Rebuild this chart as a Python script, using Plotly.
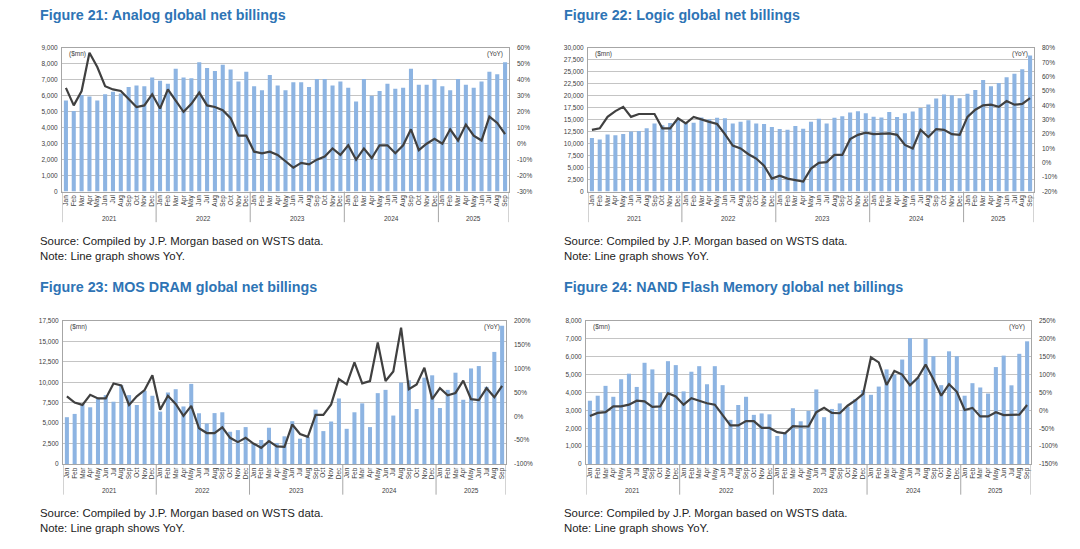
import plotly.graph_objects as go

W, H = 1080, 549

months = ["Jan", "Feb", "Mar", "Apr", "May", "Jun", "Jul", "Aug", "Sep", "Oct", "Nov", "Dec"]
month_labels = months * 4 + months[:9]
years = ["2021", "2022", "2023", "2024", "2025"]

# ---- Figure 21: Analog ($mn) and YoY (%) ----
analog_bill = [5700, 5050, 6050, 5950, 5700, 6100, 6250, 6150, 6550, 6650, 6600, 7150,
               6950, 6750, 7700, 7150, 7100, 8100, 7750, 7550, 7950, 7650, 6900, 7500,
               6600, 6350, 7300, 6650, 6350, 6850, 6850, 6550, 7050, 7050, 6650, 6900,
               6500, 5650, 7050, 6000, 6300, 6750, 6450, 6500, 7700, 6700, 6700, 7050,
               6600, 6350, 7050, 6700, 6500, 6900, 7500, 7350, 8100]
analog_yoy = [35, 24, 33, 57, 48, 36, 34, 33, 28, 23, 24, 31,
              22, 34, 27, 20, 25, 32, 24, 23, 21, 16, 5, 5,
              -5, -6, -5, -7, -11, -15, -12, -13, -10, -8, -3, -7,
              -1, -10, -3, -9, -1, -1, -6, -1, 9, -4, 0, 3,
              0, 9, 2, 12, 5, 2, 17, 13, 6]

# ---- Figure 22: Logic ----
logic_bill = [11200, 10850, 11900, 11750, 12000, 12550, 12650, 13250, 14200, 13870, 14300, 15100,
              14400, 14400, 15450, 15100, 15400, 15300, 14200, 14600, 14900, 14200, 14100, 13500,
              13050, 12900, 13700, 13100, 14600, 15200, 14200, 15400, 15750, 16500, 16750, 16350,
              15650, 15450, 16600, 15600, 16350, 16700, 17450, 18200, 19450, 20250, 20100, 19500,
              20450, 21200, 23300, 22000, 22650, 23900, 24600, 25550, 28400]
logic_yoy = [23, 24, 32, 36, 39, 32, 34, 34, 34, 24, 24, 31,
             27.5, 32, 30, 28.5, 27, 20, 12, 10, 6, 3, -2, -11,
             -9, -11, -12, -13, -4, 0, 0.5, 5.5, 5.5, 16.5, 19.5, 21,
             20, 20, 20.5, 19.5, 12.5, 10, 23, 18, 23.5, 23, 20, 19.5,
             32, 37, 40, 40.5, 39, 43, 40.5, 41, 45]

# ---- Figure 23: MOS DRAM ----
dram_bill = [5730, 6130, 7340, 6940, 8020, 8430, 7620, 9640, 8430, 7220, 8950, 8350,
             6410, 8750, 9150, 7040, 9800, 6210, 4960, 6230, 6330, 3950, 4150, 4520,
             2500, 2940, 4440, 2580, 3390, 5240, 3100, 3300, 6650, 4030, 5200, 8020,
             4310, 6330, 7420, 4520, 8670, 9070, 5930, 9960, 10240, 6730, 10560, 10850,
             6850, 9070, 11170, 7860, 11690, 11980, 9440, 13710, 16900]
dram_yoy = [42, 29, 24, 45, 37.5, 37.5, 69, 65, 24, 42, 55, 86,
            14, 43, 26, 1, 22, -25, -35, -35, -23, -45, -54, -45,
            -57, -66, -52, -63, -64, -17, -37, -43, 3, 3, 25, 78,
            67, 113, 69, 74, 155, 74, 94, 186, 57, 67, 102, 36,
            59, 44, 49, 75, 36, 34, 59, 40, 64]

# ---- Figure 24: NAND Flash ----
nand_bill = [3540, 3820, 4370, 3760, 4740, 5050, 4310, 5660, 5290, 4000, 5750, 5530,
             4060, 5160, 5470, 4460, 5470, 4410, 2470, 3300, 3760, 2750, 2830, 2780,
             1570, 1720, 3120, 2390, 2970, 4170, 2620, 3080, 3390, 3210, 3630, 4130,
             3870, 4330, 5290, 5010, 5840, 7040, 4830, 6990, 6030, 4410, 6300, 6030,
             3820, 4520, 4280, 3940, 5420, 6060, 4400, 6160, 6860]
nand_yoy = [-16, -7, -5, 11, 11, 16, 27, 25, 10, 11, 48, 39,
            16, 34, 27, 20, 16, -13, -42, -42, -30, -30, -49, -49,
            -61, -64, -44, -45, -45, -5, 7, -7, -8, 13, 28, 46,
            148, 134, 71, 110, 100, 70, 91, 128, 87, 41, 73, 52,
            1, 7, -17, -17, -5, -13, -12, -12, 15]

# tick values / labels
analog_lticks = list(range(0, 9001, 1000))
analog_rticks = list(range(-30, 61, 10))
logic_lticks = list(range(0, 30001, 2500))
logic_rticks = list(range(-20, 81, 10))
dram_lticks = list(range(0, 17501, 2500))
dram_rticks = list(range(-100, 201, 50))
nand_lticks = list(range(0, 8001, 1000))
nand_rticks = list(range(-150, 251, 50))

titles = ["Figure 21: Analog global net billings",
          "Figure 22: Logic global net billings",
          "Figure 23: MOS DRAM global net billings",
          "Figure 24: NAND Flash Memory global net billings"]
source_text = "Source: Compiled by J.P. Morgan based on WSTS data."
note_text = "Note: Line graph shows YoY."

charts = [
    dict(bars=analog_bill, yoy=analog_yoy, lt=analog_lticks, rt=analog_rticks,
         box=(62, 509, 44.5, 190), tx=38, ty=11),
    dict(bars=logic_bill, yoy=logic_yoy, lt=logic_lticks, rt=logic_rticks,
         box=(588, 1034, 44.5, 190), tx=562, ty=11),
    dict(bars=dram_bill, yoy=dram_yoy, lt=dram_lticks, rt=dram_rticks,
         box=(63, 506, 321, 466), tx=38, ty=287),
    dict(bars=nand_bill, yoy=nand_yoy, lt=nand_lticks, rt=nand_rticks,
         box=(586, 1031, 321, 466), tx=562, ty=287),
]

FONT = "Liberation Sans, Arial, sans-serif"
BAR_C = "#8DB4E2"
LINE_C = "#404040"
GRID_C = "#C4C4C4"
TXT_C = "#404040"
TITLE_C = "#2E74B5"
TICK_SIZE = 6.5


def px(x):
    return x / W


def py(y):
    return 1 - y / H


fig = go.Figure()
annotations = []
shapes = []
layout = {}
xs = list(range(len(month_labels)))
year_centers = [5.5, 17.5, 29.5, 41.5, 52]
year_bounds = [-0.5, 11.5, 23.5, 35.5, 47.5, 56.5]

for i, c in enumerate(charts):
    n = i + 1
    xa = "x" if n == 1 else f"x{n}"
    yl_id = 2 * n - 1
    yr_id = 2 * n
    yl = "y" if yl_id == 1 else f"y{yl_id}"
    yr = f"y{yr_id}"
    x0, x1, y0, y1 = c["box"]

    fig.add_trace(go.Bar(x=xs, y=c["bars"], xaxis=xa, yaxis=yl, marker_color=BAR_C,
                         marker_line_width=0, width=0.52, showlegend=False))
    fig.add_trace(go.Scatter(x=xs, y=c["yoy"], xaxis=xa, yaxis=yr, mode="lines",
                             line=dict(color=LINE_C, width=2.2), showlegend=False))

    xkey = "xaxis" if n == 1 else f"xaxis{n}"
    ylkey = "yaxis" if yl_id == 1 else f"yaxis{yl_id}"
    yrkey = f"yaxis{yr_id}"
    layout[xkey] = dict(domain=[px(x0), px(x1)], anchor=yl, range=[-0.5, 56.5],
                        tickmode="array", tickvals=xs, ticktext=month_labels,
                        tickangle=-90, tickfont=dict(size=TICK_SIZE, color=TXT_C, family=FONT),
                        showgrid=False, showline=True, linecolor="#A6A6A6", linewidth=1,
                        mirror=True, ticks="", zeroline=False, fixedrange=True)
    lt = c["lt"]
    layout[ylkey] = dict(domain=[py(y1), py(y0)], anchor=xa, range=[lt[0], lt[-1]],
                         tickmode="array", tickvals=lt, ticktext=[f"{v:,}" for v in lt],
                         tickfont=dict(size=TICK_SIZE, color=TXT_C, family=FONT),
                         showgrid=True, gridcolor=GRID_C, gridwidth=1,
                         showline=True, linecolor="#A6A6A6", linewidth=1, mirror=True,
                         zeroline=False, ticks="", ticklabelstandoff=2)
    rt = c["rt"]
    layout[yrkey] = dict(overlaying=yl, side="right", anchor=xa, range=[rt[0], rt[-1]],
                         tickmode="array", tickvals=rt, ticktext=[f"{v}%" for v in rt],
                         tickfont=dict(size=TICK_SIZE, color=TXT_C, family=FONT),
                         showgrid=False, showline=False, zeroline=False, ticks="",
                         ticklabelstandoff=7)

    # year labels and separators
    for yc, ylab in zip(year_centers, years):
        annotations.append(dict(x=yc, xref=xa, y=py(y1 + 27), yref="paper", text=ylab,
                                showarrow=False,
                                font=dict(size=TICK_SIZE, color=TXT_C, family=FONT),
                                xanchor="center", yanchor="middle"))
    for b in year_bounds:
        shapes.append(dict(type="line", xref=xa, yref="paper", x0=b, x1=b,
                           y0=py(y1), y1=py(y1 + 31), line=dict(color="#A6A6A6", width=1)))

    # unit labels
    annotations.append(dict(x=px(x0 + 5), y=py(y0 + 6), xref="paper", yref="paper",
                            text="($mn)", showarrow=False, xanchor="left", yanchor="middle",
                            font=dict(size=TICK_SIZE, color=TXT_C, family=FONT)))
    annotations.append(dict(x=px(x1 - 4), y=py(y0 + 6), xref="paper", yref="paper",
                            text="(YoY)", showarrow=False, xanchor="right", yanchor="middle",
                            font=dict(size=TICK_SIZE, color=TXT_C, family=FONT)))

    # title and notes
    annotations.append(dict(x=px(c["tx"]), y=py(c["ty"]), xref="paper", yref="paper",
                            text=f"<b>{titles[i]}</b>", showarrow=False, xanchor="left",
                            yanchor="middle", font=dict(size=14.3, color=TITLE_C, family=FONT)))
    annotations.append(dict(x=px(c["tx"]), y=py(y1 + 50), xref="paper", yref="paper",
                            text=source_text, showarrow=False, xanchor="left", yanchor="middle",
                            font=dict(size=11.4, color="#222222", family=FONT)))
    annotations.append(dict(x=px(c["tx"]), y=py(y1 + 65), xref="paper", yref="paper",
                            text=note_text, showarrow=False, xanchor="left", yanchor="middle",
                            font=dict(size=11.4, color="#222222", family=FONT)))

fig.update_layout(
    width=W, height=H, margin=dict(l=0, r=0, t=0, b=0),
    paper_bgcolor="white", plot_bgcolor="white",
    showlegend=False, bargap=0.5,
    annotations=annotations, shapes=shapes,
    font=dict(family=FONT),
    **layout,
)

fig.write_html("out.html")
